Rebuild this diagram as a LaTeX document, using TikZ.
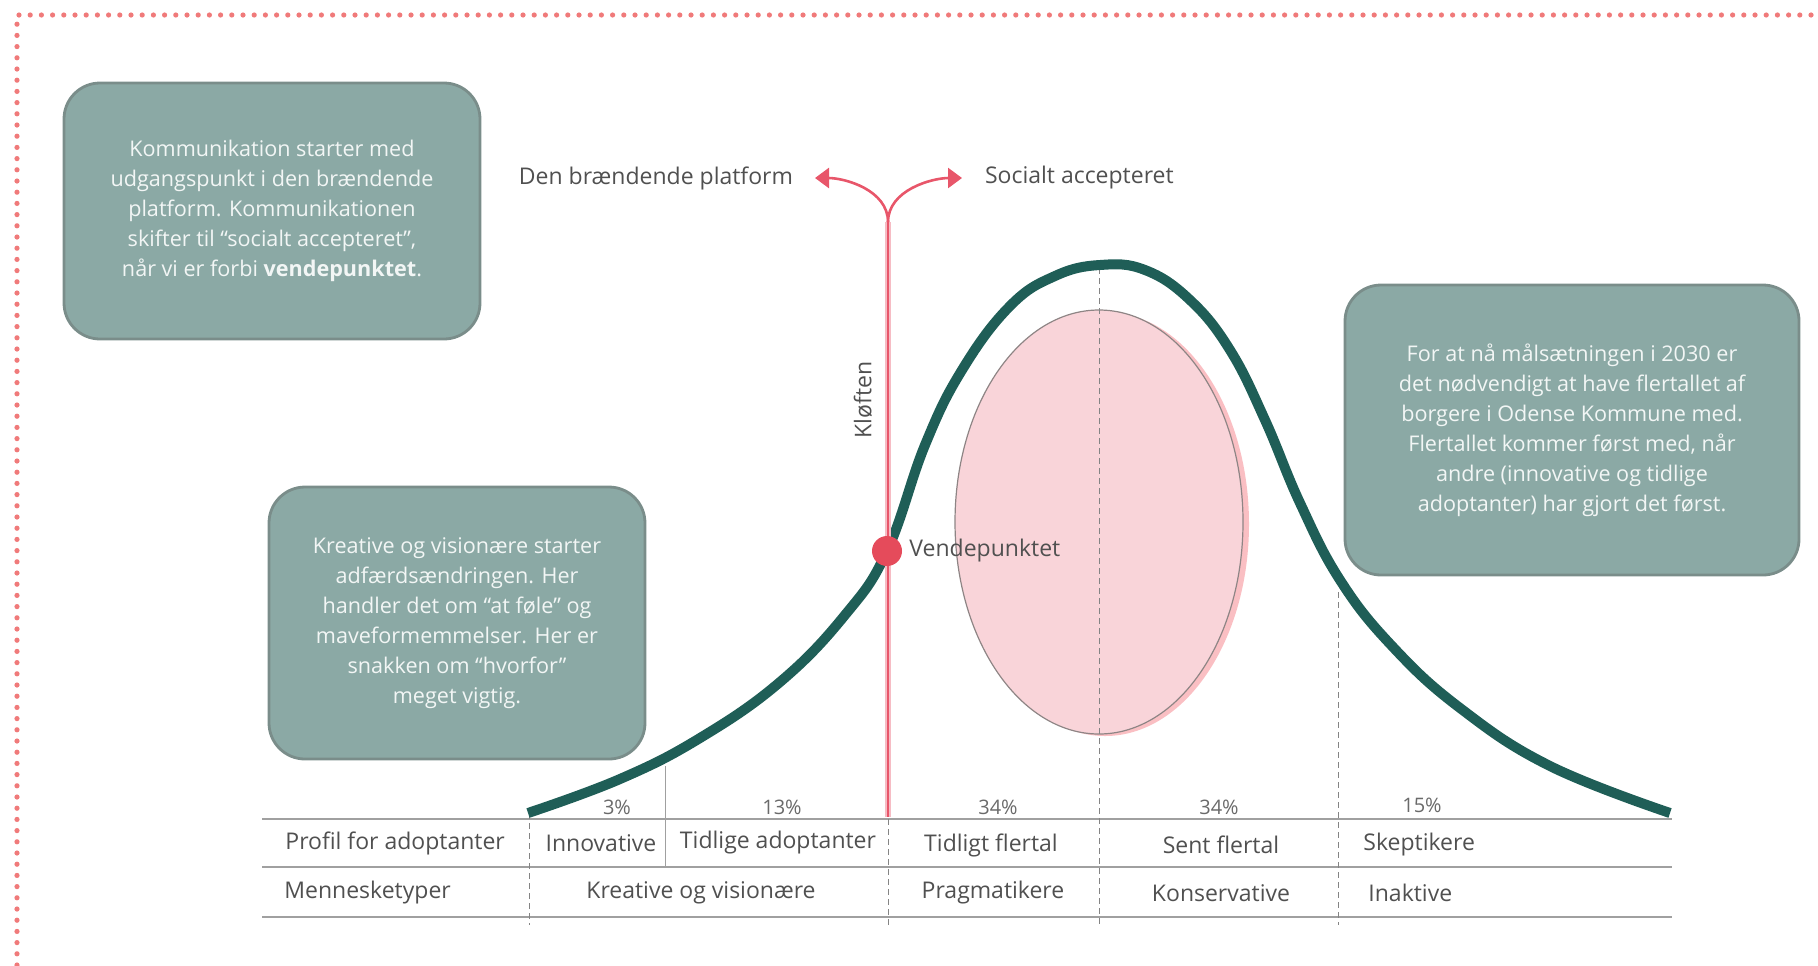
\documentclass[tikz,border=0pt]{standalone}
\usepackage{fontspec}
\setmainfont{Open Sans}
\usetikzlibrary{arrows.meta,positioning,shapes.geometric}

\definecolor{bellc}{HTML}{1F5E57}
\definecolor{boxfill}{HTML}{8BA9A5}
\definecolor{boxedge}{HTML}{7A8D8A}
\definecolor{boxtext}{HTML}{F2F6F5}
\definecolor{gapred}{HTML}{E8566A}
\definecolor{gappink}{HTML}{F6BCC4}
\definecolor{dotred}{HTML}{E54B5B}
\definecolor{eggfill}{HTML}{F9D4D9}
\definecolor{eggline}{HTML}{8E8585}
\definecolor{framedot}{HTML}{F07A7A}
\definecolor{txtgray}{HTML}{505050}
\definecolor{rulegray}{HTML}{A0A0A0}

\begin{document}
\begin{tikzpicture}[
  x=0.5pt, y=-0.5pt,
  every node/.style={font=\fontsize{11.5}{14}\selectfont, text=txtgray},
  note/.style={rectangle, rounded corners=18pt, fill=boxfill, draw=boxedge, line width=1.4pt, align=center, text=boxtext, font=\fontsize{10.8}{15}\selectfont},
  cell/.style={inner sep=1pt},
  pct/.style={inner sep=1pt, font=\fontsize{10}{12}\selectfont, text=txtgray!85},
  egg/.style={ellipse, draw=eggline, line width=0.6pt, fill=eggfill, minimum width=144pt, minimum height=212pt},
  vdot/.style={circle, fill=dotred, minimum size=15pt, inner sep=0pt},
  bell/.style={draw=bellc, line width=5pt},
  gap/.style={draw=gappink, line width=2.6pt},
  fork/.style={draw=gapred, line width=1.3pt, -{Triangle[length=7pt, width=10pt]}},
  rule/.style={draw=rulegray, line width=0.7pt},
  divider/.style={draw=txtgray!70, line width=0.45pt, dash pattern=on 3pt off 2pt},
  frame/.style={draw=framedot, line width=2.6pt, line cap=round, dash pattern=on 0pt off 5.6pt}
]
\useasboundingbox (0,0) rectangle (1818,965);

% frame
\draw[frame] (17,965) -- (17,15) -- (1818,15);

% text boxes
\node[note, minimum width=208pt, minimum height=128pt] (noteTop) at (272,211)
  {Kommunikation starter med\\udgangspunkt i den brændende\\platform. Kommunikationen\\skifter til ``socialt accepteret'',\\når vi er forbi \textbf{vendepunktet}.};
\node[note, minimum width=188pt, minimum height=136pt] (noteLeft) at (457,623)
  {Kreative og visionære starter\\adfærdsændringen. Her\\handler det om ``at føle'' og\\maveformemmelser. Her er\\snakken om ``hvorfor''\\meget vigtig.};
\node[note, minimum width=227pt, minimum height=145pt] (noteRight) at (1572,430)
  {For at nå målsætningen i 2030 er\\det nødvendigt at have flertallet af\\borgere i Odense Kommune med.\\Flertallet kommer først med, når\\andre (innovative og tidlige\\adoptanter) har gjort det først.};

% majority
\node[egg, draw=none, fill=eggfill!90!red] (flertalSkygge) at (1105,524) {};
\node[egg] (flertal) at (1099,522) {};

% table rules
\coordinate (ruleA0) at (262,819); \coordinate (ruleA1) at (1672,819);
\coordinate (ruleB0) at (262,867); \coordinate (ruleB1) at (1672,867);
\coordinate (ruleC0) at (262,917); \coordinate (ruleC1) at (1672,917);
\draw[rule] (ruleA0) -- (ruleA1);
\draw[rule] (ruleB0) -- (ruleB1);
\draw[rule] (ruleC0) -- (ruleC1);

\draw[divider] (529,813) -- (529,925);
\draw[rule, line width=0.45pt] (665,766) -- (665,867);
\draw[divider] (888,819) -- (888,925);
\draw[divider] (1099,268) -- (1099,925);
\draw[divider] (1338,592) -- (1338,925);

% bell curve
\draw[bell] plot[smooth, tension=0.7] coordinates {
  (528,813) (620,779) (700,738) (780,682) (845,615) (887,551)
  (925,445) (962,370) (1010,306) (1055,276) (1100,265) (1145,270)
  (1190,300) (1230,350) (1265,420) (1300,503) (1340,580) (1392,646)
  (1460,708) (1550,766) (1670,813)};

% the chasm
\coordinate (forkTop) at (888,222);
\coordinate (gapBot) at (888,817);
\coordinate (tipL) at (815,178);
\coordinate (tipR) at (962,178);
\draw[gap] (forkTop) -- (gapBot);
\draw[draw=gapred, line width=0.6pt] (forkTop) -- (gapBot);
\draw[fork] (forkTop) .. controls +(0,-32) and +(30,0) .. (tipL);
\draw[fork] (forkTop) .. controls +(0,-32) and +(-30,0) .. (tipR);

\node[anchor=east] (brand) at (800,178) {Den brændende platform};
\node[anchor=west] (social) at (978,178) {Socialt accepteret};
\node[rotate=90] (kloeft) at (863,400) {Kløften};

\node[vdot] (vpunkt) at (887,551) {};
\node[right=0pt of vpunkt] (vlabel) {Vendepunktet};

% table text
\node[pct] (p1) at (617,807) {3\%};
\node[pct] (p2) at (782,807) {13\%};
\node[pct] (p3) at (998,807) {34\%};
\node[pct] (p4) at (1219,807) {34\%};
\node[pct] (p5) at (1422,805) {15\%};

\node[cell, anchor=west] (profil) at (283,843) {Profil for adoptanter};
\node[cell] (innov) at (601,843) {Innovative};
\node[cell] (tidl) at (778,843) {Tidlige adoptanter};
\node[cell] (tflt) at (991,845) {Tidligt flertal};
\node[cell] (sflt) at (1221,845) {Sent flertal};
\node[cell, anchor=west] (skep) at (1361,845) {Skeptikere};

\node[cell, anchor=west] (mtype) at (282,893) {Mennesketyper};
\node[cell] (krea) at (701,893) {Kreative og visionære};
\node[cell] (prag) at (993,893) {Pragmatikere};
\node[cell] (kons) at (1221,893) {Konservative};
\node[cell, anchor=west] (inak) at (1366,893) {Inaktive};

\end{tikzpicture}
\end{document}
